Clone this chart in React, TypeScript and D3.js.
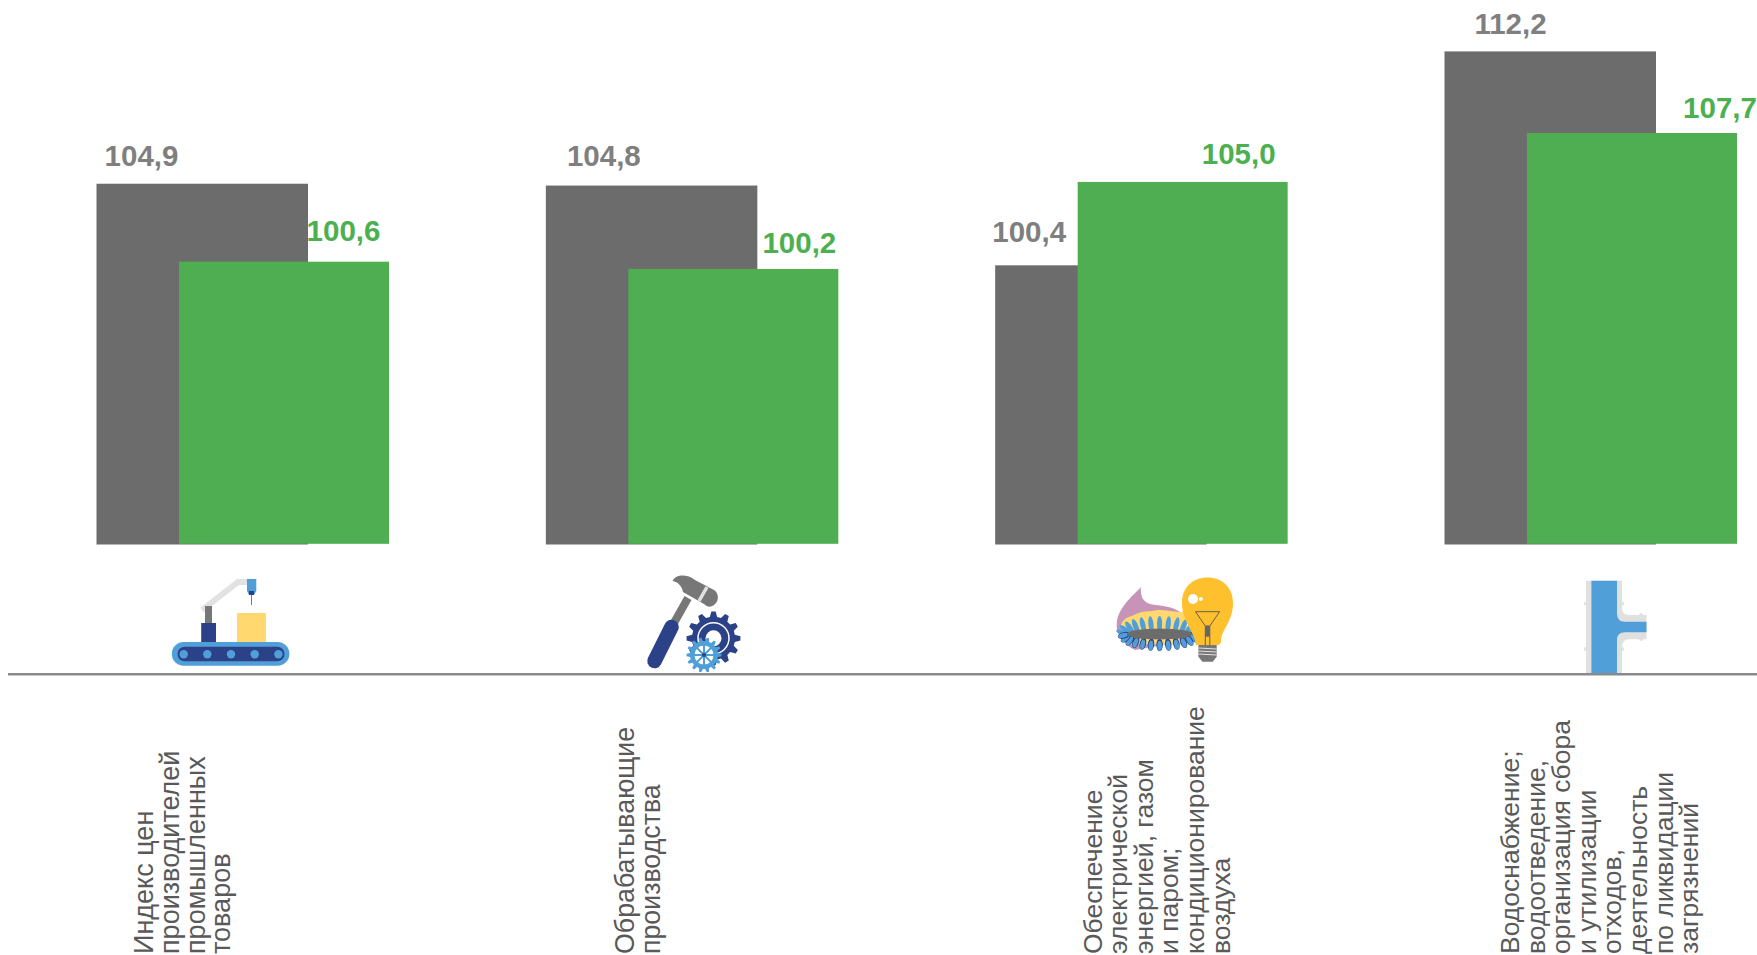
import * as d3 from 'd3';

const categories = ['index', 'manufacturing', 'energy', 'water'];
const prevValues = [104.9, 104.8, 100.4, 112.2];
const currValues = [100.6, 100.2, 105.0, 107.7];
const prevLabels = ['104,9', '104,8', '100,4', '112,2'];
const currLabels = ['100,6', '100,2', '105,0', '107,7'];

const captionLines = [
  ['Индекс цен', 'производителей', 'промышленных', 'товаров'],
  ['Обрабатывающие', 'производства'],
  ['Обеспечение', 'электрической', 'энергией, газом', 'и паром;', 'кондиционирование', 'воздуха'],
  ['Водоснабжение;', 'водоотведение,', 'организация сбора', 'и утилизации', 'отходов,', 'деятельность', 'по ликвидации', 'загрязнений'],
];

// hand placed in the original, so kept as offsets from the bars
const prevLabelDx = [45, 58, 34, 66];
const prevLabelDy = [17.5, 20, 23, 17.5];
const currLabelDx = [164.5, 171, 161, 193];
const currLabelDy = [20.5, 15.5, 18, 15];
const captionFirstX = [153.3, 634, 1101.5, 1519];
const captionSize = [27, 26.75, 26.5, 26.5];

const GRAY = '#6c6c6c';
const GREEN = '#50ae52';
const FONT = '"Liberation Sans", Arial, sans-serif';
const NAVY = '#2b4289';
const BLUE = '#519fd9';

const baseY = 544.5;
const x = d3.scalePoint<string>().domain(categories).range([96.5, 1444.5]);
const y = d3.scaleLinear().domain([85, 112.2]).range([baseY, 51.4]);
const barW = 211.5;
const currOffset = 82.5;

function gearPath(cx: number, cy: number, r: number, teeth: number) {
  const depth = r * 0.2;
  const pts: [number, number][] = [];
  for (let i = 0; i < teeth; i++) {
    const a = (i / teeth) * Math.PI * 2;
    const w = (Math.PI / teeth) * 0.5;
    [[a - w * 1.3, r - depth], [a - w * 0.6, r], [a + w * 0.6, r], [a + w * 1.3, r - depth]].forEach(([t, rad]) => {
      pts.push([cx + Math.cos(t) * rad, cy + Math.sin(t) * rad]);
    });
  }
  return d3.line().curve(d3.curveLinearClosed)(pts) as string;
}

function Conveyor() {
  const rollers = [183.7, 207.3, 231, 254.7, 278.4];
  return (
    <g>
      <polyline points="202,610 238,582 248,582" fill="none" stroke="#e2e2e2" strokeWidth={6} />
      <rect x={205} y={606} width={7} height={18} fill="#777" />
      <rect x={201.2} y={623} width={14.8} height={20} fill={NAVY} />
      <rect x={247} y={579} width={9.3} height={12} fill={BLUE} />
      <path d="M247,591 L256.3,591 L254,595 L249,595 Z" fill={BLUE} />
      <rect x={249} y={591} width={5} height={4} fill={NAVY} />
      <line x1={251.5} x2={251.5} y1={595} y2={605} stroke="#555" strokeWidth={0.8} />
      <rect x={237} y={613} width={29} height={29} fill="#ffd970" />
      <rect x={171.8} y={642} width={117.6} height={23.7} rx={11.8} fill={BLUE} />
      <rect x={177.5} y={646.7} width={107} height={14.6} rx={7.3} fill={NAVY} />
      {rollers.map((cx) => (
        <ellipse key={cx} cx={cx} cy={654.2} rx={4.2} ry={4.2} fill={BLUE} />
      ))}
    </g>
  );
}

function HammerGear() {
  const spokes = d3.range(8).map((i) => (i / 8) * Math.PI * 2);
  return (
    <g>
      <line x1={670} y1={630} x2={688} y2={598} stroke="#777" strokeWidth={8} />
      <line x1={654.5} y1={661} x2={671.5} y2={627} stroke={NAVY} strokeWidth={14.5} strokeLinecap="round" />
      <path
        d="M672.6,581 C676,574 687,574 695,580 L714,590 C719,593 719,601 715,604 C711,608 707,607 704,604 L683,592 C682,586 678,582 672.6,581 Z"
        fill="#777"
      />
      <line x1={707} y1={587} x2={699} y2={601} stroke="#e2e2e2" strokeWidth={3.5} />
      <path d={gearPath(713.5, 638.3, 27, 12)} fill={NAVY} />
      <circle cx={713.5} cy={638.3} r={15.5} fill="none" stroke="#fff" strokeWidth={1.5} />
      <circle cx={713.5} cy={638.3} r={8} fill="#fff" />
      <path d={gearPath(704, 655, 17.5, 14)} fill={BLUE} />
      <circle cx={704} cy={655} r={10.5} fill="#fff" />
      <circle cx={704} cy={655} r={10.5} fill="none" stroke={BLUE} strokeWidth={2} />
      {spokes.map((a) => (
        <line
          key={a}
          x1={704}
          y1={655}
          x2={704 + Math.cos(a) * 10.5}
          y2={655 + Math.sin(a) * 10.5}
          stroke={BLUE}
          strokeWidth={2}
        />
      ))}
      <circle cx={704} cy={655} r={2} fill={NAVY} />
    </g>
  );
}

function BurnerBulb() {
  const cx = 1159.6;
  const cy = 634;
  const top = d3.range(13).map((i) => Math.PI + ((i + 0.5) / 13) * Math.PI);
  const bottom = d3.range(13).map((i) => ((i + 0.5) / 13) * Math.PI);
  return (
    <g>
      <path
        d="M1116.7,625 C1117,608 1132,597 1141,587 C1140,596 1143,602 1150,604 C1160,606 1172,606 1180,612 L1190,640 L1135,650 C1125,645 1116,635 1116.7,625 Z"
        fill="#c793b6"
      />
      <path
        d="M1120.8,625 C1124,617 1130,617 1134,615 C1142,610 1150,612 1158,610 C1166,610 1174,612 1184,612 L1190,645 L1128,644 C1122,638 1120,632 1120.8,625 Z"
        fill="#ffd970"
      />
      {top.map((a) => {
        const fx = cx + Math.cos(a) * 36;
        const fy = cy + Math.sin(a) * 10;
        const deg = (Math.atan2(Math.sin(a) * 2.2, Math.cos(a)) * 180) / Math.PI + 90;
        return <ellipse key={a} cx={fx} cy={fy} rx={2.6} ry={8} fill={BLUE} transform={`rotate(${deg} ${fx} ${fy})`} />;
      })}
      {bottom.map((a) => {
        const fx = cx + Math.cos(a) * 36;
        const fy = cy + Math.sin(a) * 11;
        const deg = (Math.atan2(Math.sin(a) * 2.2, Math.cos(a)) * 180) / Math.PI + 90;
        return (
          <g key={a} transform={`rotate(${deg} ${fx} ${fy})`}>
            <ellipse cx={fx} cy={fy} rx={3.2} ry={6.2} fill={NAVY} />
            <ellipse cx={fx} cy={fy - 0.8} rx={2.3} ry={5} fill={BLUE} />
          </g>
        );
      })}
      <ellipse cx={cx} cy={cy} rx={33} ry={5.5} fill="#6c6c6c" />
      <path
        d="M1196,645 C1195,632 1182,622 1182,603 C1182,587 1193,577.5 1207.5,577.5 C1222,577.5 1233,587 1233,603 C1233,622 1221,630 1221,641 Q1221,645 1217,645 Z"
        fill="#ffc02d"
      />
      <ellipse cx={1193} cy={599} rx={5} ry={5} fill="#fff" />
      <circle cx={1200.8} cy={599} r={2} fill="#fff" />
      <path
        d="M1195.5,611.7 L1219.6,611.7 L1209.8,626 L1209.8,645 M1195.5,611.7 L1205.3,626 L1205.3,645 M1205.3,626 L1209.8,626"
        fill="none"
        stroke="#555"
        strokeWidth={0.9}
      />
      <rect x={1205.3} y={626} width={4.5} height={10.7} fill="#666" />
      <path d="M1198.4,645 L1216.7,645 L1216.7,656.7 L1212.7,661.7 L1202.4,661.7 L1198.4,656.7 Z" fill="#777" />
      {[648, 651, 654].map((ly) => (
        <line key={ly} x1={1198.4} x2={1216.7} y1={ly} y2={ly + 1} stroke="#eee" strokeWidth={0.9} />
      ))}
    </g>
  );
}

function PipeTee() {
  return (
    <g>
      <path
        d="M1586,580.7 L1622,580.7 L1622,608 Q1622,615 1629,615 L1646.5,615 L1646.5,639.3 L1629,639.3 Q1622,639.3 1622,647 L1622,673 L1586,673 Z"
        fill="#e0e0e0"
      />
      <path
        d="M1591.4,580.7 L1617,580.7 L1617,614 Q1617,621.7 1625,621.7 L1646.5,621.7 L1646.5,632.3 L1625,632.3 Q1617,632.3 1617,640 L1617,673 L1591.4,673 Z"
        fill={BLUE}
      />
      {[[1586, 603.5], [1586, 649], [1622, 603.5], [1622, 649], [1641, 615], [1641, 639]].map(([px, py]) => (
        <circle key={`${px}-${py}`} cx={px} cy={py} r={2} fill="#e0e0e0" />
      ))}
    </g>
  );
}

export default function App() {
  return (
    <svg
      width={1757}
      height={955}
      style={{ position: 'absolute', left: 0, top: 0, display: 'block', background: '#fff' }}
      fontFamily={FONT}
    >
      {categories.map((c, i) => (
        <rect key={c} x={x(c)} y={y(prevValues[i])} width={barW} height={baseY - y(prevValues[i])} fill={GRAY} />
      ))}
      {categories.map((c, i) => (
        <rect
          key={c}
          x={x(c)! + currOffset}
          y={y(currValues[i])}
          width={barW - 1.5}
          height={baseY - 0.7 - y(currValues[i])}
          fill={GREEN}
        />
      ))}

      {categories.map((c, i) => (
        <text
          key={c}
          x={x(c)! + prevLabelDx[i]}
          y={y(prevValues[i]) - prevLabelDy[i]}
          textAnchor="middle"
          fontSize={29.5}
          fontWeight="bold"
          fill="#7f7f7f"
        >
          {prevLabels[i]}
        </text>
      ))}
      {categories.map((c, i) => (
        <text
          key={c}
          x={x(c)! + currLabelDx[i] + currOffset}
          y={y(currValues[i]) - currLabelDy[i]}
          textAnchor="middle"
          fontSize={29.5}
          fontWeight="bold"
          fill="#4caf50"
        >
          {currLabels[i]}
        </text>
      ))}

      <Conveyor />
      <HammerGear />
      <BurnerBulb />
      <PipeTee />

      <line x1={8} x2={1757} y1={674.3} y2={674.3} stroke="#8a8a8a" strokeWidth={2.6} />

      {captionLines.map((lines, i) =>
        lines.map((line, j) => {
          const lx = captionFirstX[i] + j * 25.6;
          return (
            <text key={line} transform={`translate(${lx},954) rotate(-90)`} fontSize={captionSize[i]} fill="#595959">
              {line}
            </text>
          );
        })
      )}
    </svg>
  );
}
